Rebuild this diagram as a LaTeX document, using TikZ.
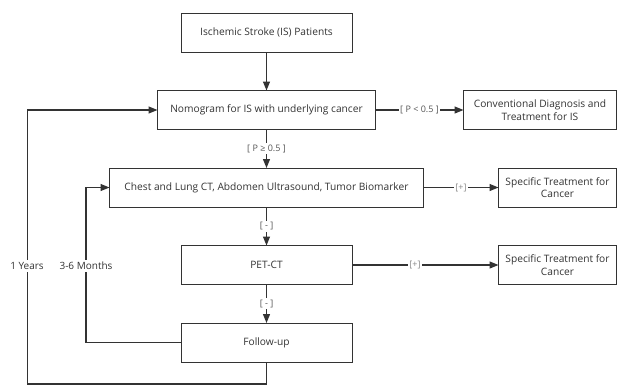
\documentclass[tikz,border=0pt]{standalone}
\usepackage{fontspec}
\setmainfont{Open Sans}
\usetikzlibrary{positioning}
\usetikzlibrary{arrows.meta}
\definecolor{linegray}{HTML}{333333}
\definecolor{labelgray}{HTML}{555555}
\tikzset{x=1pt,y=1pt,
    node distance=38.5pt,
    box/.style={
        draw=linegray,
        line width=1pt,
        text=linegray,
        font=\fontsize{10.2}{12.5}\selectfont,
        minimum height=39pt,
        inner sep=0pt,
        outer sep=0pt,
        align=center},
    cond/.style={
        fill=white,
        text=labelgray,
        font=\fontsize{9}{10}\selectfont,
        inner sep=1.5pt},
    side/.style={
        fill=white,
        text=linegray,
        font=\fontsize{10}{12}\selectfont,
        inner sep=2pt},
    link/.style={
        draw=linegray,
        line width=1.2pt,
        -{Triangle[length=9pt,width=7pt]}},
    every edge/.style={link}}

\begin{document}
\begin{tikzpicture}
        \useasboundingbox (0,0) rectangle (619,-386);

        \node[box,minimum width=171pt] (is) at (266.5,-32.5) {Ischemic Stroke (IS) Patients};
        \node[box,minimum width=218pt,below=of is] (nomo) {Nomogram for IS with underlying cancer};
        \node[box,minimum width=153pt,right=88pt of nomo] (conv) {Conventional Diagnosis and\\Treatment for IS};
        \node[box,minimum width=314pt,below=of nomo] (chest) {Chest and Lung CT, Abdomen Ultrasound, Tumor Biomarker};
        \node[box,minimum width=118pt,right=75pt of chest] (spec1) {Specific Treatment for\\Cancer};
        \node[box,minimum width=171pt,below=of chest] (pet) {PET-CT};
        \node[box,minimum width=118pt,below=of spec1] (spec2) {Specific Treatment for\\Cancer};
        \node[box,minimum width=171pt,below=of pet] (follow) {Follow-up};

        \draw (is) edge (nomo);
        \draw (nomo) edge node[cond] {[ P < 0.5 ]} (conv);
        \draw (nomo) edge node[cond] {[ P ≥ 0.5 ]} (chest);
        \draw (chest) edge node[cond,text=labelgray!70] {[+]} (spec1);
        \draw (chest) edge node[cond] {[ - ]} (pet);
        \draw (pet) edge node[cond,pos=0.43,text=labelgray!70] {[+]} (spec2);
        \draw (pet) edge node[cond] {[ - ]} (follow);

        % loops back
        \coordinate[left=95pt of follow.west] (m36);
        \coordinate[below=22pt of follow.south] (yr1);
        \draw[link] (follow.west) -- (m36) |- (chest.west);
        \draw[link] (follow.south) -- (yr1) -| ([xshift=-130pt]nomo.west) -- (nomo.west);
        \node[side] (lab36) at (86,-266) {3-6 Months};
        \node[side] (lab1) at (27,-266) {1 Years};
\end{tikzpicture}
\end{document}
